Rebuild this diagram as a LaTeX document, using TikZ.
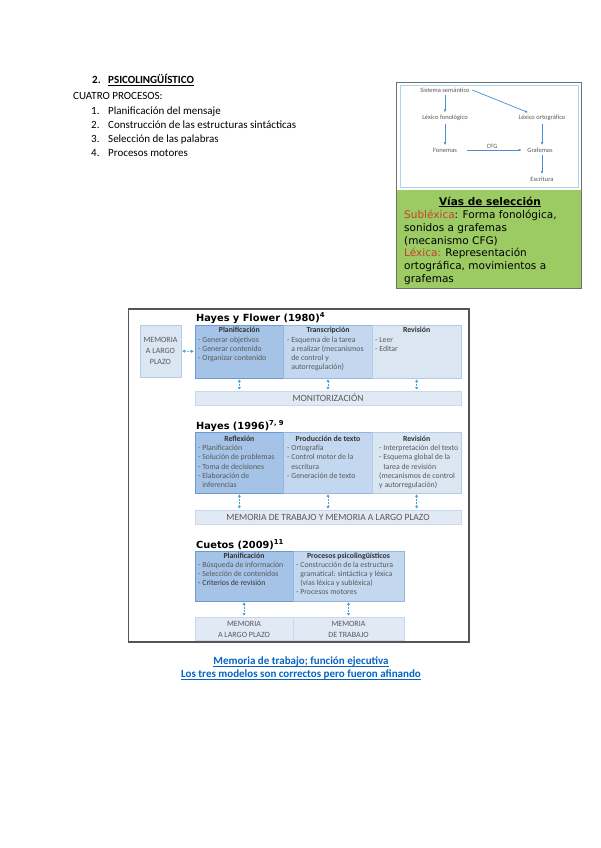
\documentclass[tikz,border=0pt]{standalone}
\usepackage{fontspec}
\setmainfont{Carlito}
\newfontfamily\dvfont{DejaVu Sans}
\usetikzlibrary{arrows.meta,calc}
\definecolor{vgreen}{HTML}{9BCB62}
\definecolor{vred}{HTML}{C8402C}
\definecolor{linkblue}{HTML}{0563C1}
\definecolor{bxdark}{HTML}{A5C3E6}
\definecolor{bxdarkline}{HTML}{6B9AD2}
\definecolor{bxmid}{HTML}{C3D7EF}
\definecolor{bxmidline}{HTML}{93B6E0}
\definecolor{bxlight}{HTML}{DBE6F3}
\definecolor{bxlightline}{HTML}{B4CBE8}
\definecolor{barfill}{HTML}{E0E9F4}
\definecolor{barline}{HTML}{C9D8EC}
\definecolor{arrblue}{HTML}{4DA0D0}
\definecolor{txtgray}{HTML}{595959}
\definecolor{hdgray}{HTML}{333333}
\definecolor{panelline}{HTML}{A9D6E8}
\definecolor{dgarrow}{HTML}{4A8FD4}
\definecolor{framegray}{HTML}{555555}
\definecolor{boxgray}{HTML}{707070}
\newcommand{\bodytext}[1]{\parbox[t]{110pt}{\fontsize{7.8}{9.3}\selectfont\leavevmode#1}}
\newcommand{\ind}{\hphantom{- }}
\tikzset{
  txt/.style={inner sep=0, font=\fontsize{11}{13}\selectfont, anchor=base west},
  bxd/.style={draw=bxdarkline, fill=bxdark, line width=0.6pt, inner sep=0, outer sep=0, anchor=north west},
  bxm/.style={draw=bxmidline, fill=bxmid, line width=0.6pt, inner sep=0, outer sep=0, anchor=north west},
  bxl/.style={draw=bxlightline, fill=bxlight, line width=0.6pt, inner sep=0, outer sep=0, anchor=north west},
  barbox/.style={draw=barline, fill=barfill, line width=0.6pt, inner sep=0, outer sep=0, anchor=north west},
  hdr/.style={anchor=base, inner sep=0, font=\fontsize{7.8}{9}\selectfont\bfseries, text=hdgray},
  bdy/.style={anchor=base west, inner sep=0, text=txtgray},
  arr/.style={{Latex[length=2.6pt,width=3.2pt]}-{Latex[length=2.6pt,width=3.2pt]}, draw=arrblue, line width=0.9pt, dash pattern=on 1.6pt off 1.1pt, shorten <=1.2pt, shorten >=1.2pt},
  ttl/.style={anchor=base west, inner sep=0, font=\dvfont\bfseries\fontsize{9.8}{11}\selectfont, text=black},
  bartxt/.style={anchor=base, inner sep=0, font=\fontsize{9.5}{11}\selectfont, text=txtgray},
  memtxt/.style={align=center, inner sep=0, font=\fontsize{8}{10.7}\selectfont, text=txtgray},
  dtxt/.style={inner sep=2.5pt, font=\fontsize{6.5}{7}\selectfont, text=txtgray},
  darr/.style={-{Latex[length=3pt,width=2.6pt]}, draw=dgarrow, line width=0.7pt},
  uln/.style={line width=0.6pt},
}
\begin{document}
\begin{tikzpicture}[x=1pt,y=-1pt]
\useasboundingbox (0,0) rectangle (600,848);
\fill[white] (0,0) rectangle (600,848);

% ---------- top-left text ----------
\node[txt] (n0) at (92,84) {\bfseries 2.};
\node[txt] (title) at (108,84) {\bfseries PSICOLINGÜÍSTICO};
\draw[uln, black] ($(title.base west)+(0,1.6)$) -- ($(title.base east)+(0,1.6)$);
\node[txt] (cuatro) at (73,100) {CUATRO PROCESOS:};
\node[txt] (n1) at (91,114) {1.};
\node[txt] (i1) at (108,114) {Planificación del mensaje};
\node[txt] (n2) at (91,128.3) {2.};
\node[txt] (i2) at (108,128.3) {Construcción de las estructuras sintácticas};
\node[txt] (n3) at (91,142.6) {3.};
\node[txt] (i3) at (108,142.6) {Selección de las palabras};
\node[txt] (n4) at (91,156.9) {4.};
\node[txt] (i4) at (108,156.9) {Procesos motores};

% ---------- top-right box ----------
\fill[vgreen] (397,190) rectangle (581,288);
\draw[panelline, line width=0.8pt] (400.5,85.5) rectangle (578,187.5);
\draw[boxgray, line width=1.5pt] (396.5,82.5) rectangle (581.5,288.5);

\node[dtxt] (ss) at (445,90) {Sistema semántico};
\node[dtxt] (lf) at (445,118) {Léxico fonológico};
\node[dtxt] (lo) at (542,118) {Léxico ortográfico};
\node[dtxt] (fo) at (445,150) {Fonemas};
\node[dtxt] (gr) at (540,150) {Grafemas};
\node[dtxt] (es) at (542,179) {Escritura};
\draw[darr] (ss) -- (lf);
\draw[darr] (lf) -- (fo);
\draw[darr] (ss.east) -- ($(lo.north)+(-14,0)$);
\draw[darr] (lo) -- (lo |- gr.north);
\draw[darr] (gr.south -| es) -- (es);
\draw[darr, shorten <=7pt, shorten >=3pt] (fo) -- node[dtxt, above, inner sep=1.5pt] (cfg) {CFG} (gr);

\node[anchor=base, inner sep=0, font=\dvfont\bfseries\fontsize{10.5}{12}\selectfont] (vias) at (490,205) {Vías de selección};
\draw[uln, black] ($(vias.base west)+(0,1.6)$) -- ($(vias.base east)+(0,1.6)$);
\node[anchor=base west, inner sep=0] (vtext) at (404,218.5) {\parbox[t]{180pt}{\dvfont\fontsize{10.5}{12.8}\selectfont\raggedright
\textcolor{vred}{Subléxica}: Forma fonológica,\\
sonidos a grafemas\\
(mecanismo CFG)\\
\textcolor{vred}{Léxica:} Representación\\
ortográfica, movimientos a\\
grafemas}};

% ---------- big figure ----------
\draw[framegray, line width=1.3pt] (128.5,309) rectangle (469,642);

% Row 1
\node[ttl] (ti1) at (196,321) {Hayes y Flower (1980)\textsuperscript{4}};
\node[bxl, minimum width=41pt, minimum height=52pt] (mem) at (140,325) {};
\node[bxd, minimum width=88.7pt, minimum height=53pt] (b11) at (195,325) {};
\node[bxm, minimum width=88.6pt, minimum height=53pt] (b12) at (283.7,325) {};
\node[bxl, minimum width=88.7pt, minimum height=53pt] (b13) at (372.3,325) {};
\node[barbox, minimum width=266pt, minimum height=14pt] (bar1) at (195,391) {};
\node[memtxt] (memt) at (mem.center) {MEMORIA\\A LARGO\\PLAZO};
\node[hdr] (h11) at (b11.north |- 0,332.5) {Planificación};
\node[bdy] (t11) at (198,342) {\bodytext{- Generar objetivos\\- Generar contenido\\- Organizar contenido}};
\node[hdr] (h12) at (b12.north |- 0,332.5) {Transcripción};
\node[bdy] (t12) at (287,342) {\bodytext{- Esquema de la tarea\\\ind a realizar (mecanismos\\\ind de control y\\\ind autorregulación)}};
\node[hdr] (h13) at (b13.north |- 0,332.5) {Revisión};
\node[bdy] (t13) at (375,342) {\bodytext{- Leer\\- Editar}};
\node[bartxt] (bt1) at (bar1.center |- 0,401.2) {MONITORIZACIÓN};
\draw[arr] (mem.east) -- (b11.west);
\draw[arr] (b11.south) -- (b11.south |- bar1.north);
\draw[arr] (b12.south) -- (b12.south |- bar1.north);
\draw[arr] (b13.south) -- (b13.south |- bar1.north);

% Row 2
\node[ttl] (ti2) at (196,429) {Hayes (1996)\textsuperscript{7, 9}};
\node[bxd, minimum width=88.7pt, minimum height=61pt] (b21) at (195,432) {};
\node[bxm, minimum width=88.6pt, minimum height=61pt] (b22) at (283.7,432) {};
\node[bxl, minimum width=88.7pt, minimum height=61pt] (b23) at (372.3,432) {};
\node[barbox, minimum width=266pt, minimum height=14pt] (bar2) at (195,510) {};
\node[hdr] (h21) at (b21.north |- 0,441) {Reflexión};
\node[bdy] (t21) at (198,450.5) {\bodytext{- Planificación\\- Solución de problemas\\- Toma de decisiones\\- Elaboración de\\\ind inferencias}};
\node[hdr] (h22) at (b22.north |- 0,441) {Producción de texto};
\node[bdy] (t22) at (287,450.5) {\bodytext{- Ortografía\\- Control motor de la\\\ind escritura\\- Generación de texto}};
\node[hdr] (h23) at (b23.north |- 0,441) {Revisión};
\node[bdy] (t23) at (379,450.5) {\bodytext{- Interpretación del texto\\- Esquema global de la\\\ind tarea de revisión\\\hspace{1pt}(mecanismos de control\\\hspace{1pt}y autorregulación)}};
\node[bartxt] (bt2) at (bar2.center |- 0,520.2) {MEMORIA DE TRABAJO Y MEMORIA A LARGO PLAZO};
\draw[arr] (b21.south) -- (b21.south |- bar2.north);
\draw[arr] (b22.south) -- (b22.south |- bar2.north);
\draw[arr] (b23.south) -- (b23.south |- bar2.north);

% Row 3
\node[ttl] (ti3) at (196,548) {Cuetos (2009)\textsuperscript{11}};
\node[bxd, minimum width=98pt, minimum height=50pt] (b31) at (195,551) {};
\node[bxm, minimum width=111pt, minimum height=50pt] (b32) at (293,551) {};
\node[barbox, minimum width=98pt, minimum height=23pt] (m31) at (195,617) {};
\node[barbox, minimum width=111pt, minimum height=23pt] (m32) at (293,617) {};
\node[hdr] (h31) at (b31.north |- 0,558.5) {Planificación};
\node[bdy] (t31) at (198,567) {\bodytext{- Búsqueda de información\\- Selección de contenidos\\{\color{hdgray}- Criterios de revisión}}};
\node[hdr] (h32) at (b32.north |- 0,558.5) {Procesos psicolingüísticos};
\node[bdy] (t32) at (296,567) {\bodytext{- Construcción de la estructura\\\ind gramatical: sintáctica y léxica\\\ind (vías léxica y subléxica)\\- Procesos motores}};
\node[memtxt] ( mt31) at ([yshift=-1pt]m31.center) {MEMORIA\\A LARGO PLAZO};
\node[memtxt] (mt32) at ([yshift=-1pt]m32.center) {MEMORIA\\DE TRABAJO};
\draw[arr] (b31.south) -- (m31.north);
\draw[arr] (b32.south) -- (m32.north);

% ---------- links ----------
\node[anchor=base, inner sep=0, font=\fontsize{11}{13}\selectfont\bfseries, text=linkblue] (l1) at (301,664) {Memoria de trabajo; función ejecutiva};
\draw[uln, linkblue] ($(l1.base west)+(0,1.8)$) -- ($(l1.base east)+(0,1.8)$);
\node[anchor=base, inner sep=0, font=\fontsize{11}{13}\selectfont\bfseries, text=linkblue] (l2) at (301,677.5) {Los tres modelos son correctos pero fueron afinando};
\draw[uln, linkblue] ($(l2.base west)+(0,1.8)$) -- ($(l2.base east)+(0,1.8)$);
\end{tikzpicture}
\end{document}
